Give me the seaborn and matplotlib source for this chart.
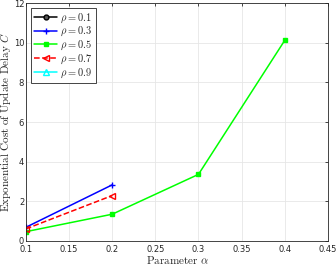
import numpy as np
import pandas as pd
import matplotlib
matplotlib.use("Agg")
import matplotlib.pyplot as plt
import seaborn as sns

# values
alpha_01 = []
cost_01 = []
alpha_03 = [0.1, 0.2]
cost_03 = [0.69, 2.83]
alpha_05 = [0.1, 0.2, 0.3, 0.4]
cost_05 = [0.47, 1.35, 3.36, 10.12]
alpha_07 = [0.1, 0.2]
cost_07 = [0.61, 2.29]
alpha_09 = []
cost_09 = []

rho_labels = ["0.1", "0.3", "0.5", "0.7", "0.9"]
series_x = [alpha_01, alpha_03, alpha_05, alpha_07, alpha_09]
series_y = [cost_01, cost_03, cost_05, cost_07, cost_09]

colors = ["black", "blue", "#00ff00", "red", "cyan"]
markers = ["o", "+", "s", "<", "^"]
msizes = [3.5, 4.5, 3, 4, 4]
lstyles = ["-", "-", "-", "--", "-"]
mfaces = ["#555555", "blue", "#00ff00", "none", "none"]

sns.set_style("whitegrid")
plt.rcParams["font.family"] = ["DejaVu Sans"]
plt.rcParams["mathtext.fontset"] = "cm"

fig = plt.figure(figsize=(3.36, 2.65), dpi=100)
ax = fig.add_axes([0.077, 0.0906, 0.899, 0.898])

for xs, ys, lab, c, m, ms, ls, mf in zip(series_x, series_y, rho_labels, colors, markers, msizes, lstyles, mfaces):
    if len(xs) > 0:
        df = pd.DataFrame({"alpha": xs, "cost": ys})
        sns.lineplot(data=df, x="alpha", y="cost", ax=ax, color=c, marker=m,
                     linestyle=ls, markersize=ms, markerfacecolor=mf,
                     markeredgecolor=c, markeredgewidth=1.0, linewidth=1.1,
                     label=r"$\rho = %s$" % lab)
    else:
        ax.plot([], [], color=c, marker=m, linestyle=ls, markersize=ms,
                markerfacecolor=mf, markeredgecolor=c, markeredgewidth=1.0,
                linewidth=1.1, label=r"$\rho = %s$" % lab)

ax.set_xlim(0.1, 0.45)
ax.set_ylim(0, 12)
ax.set_xticks([0.1, 0.15, 0.2, 0.25, 0.3, 0.35, 0.4, 0.45])
ax.set_xticklabels(["0.1", "0.15", "0.2", "0.25", "0.3", "0.35", "0.4", "0.45"])
ax.set_yticks([0, 2, 4, 6, 8, 10, 12])
ax.tick_params(axis="both", labelsize=6, colors="#262626", direction="in",
               length=2.5, width=0.6, top=True, right=True)
ax.tick_params(axis="x", pad=3)
ax.tick_params(axis="y", pad=1.2)
ax.grid(True, color="#e6e6e6", linewidth=0.6)
for s in ax.spines.values():
    s.set_color("#262626")
    s.set_linewidth(0.6)

ax.set_xlabel(r"$\mathrm{Parameter}\ \alpha$", fontsize=8)
ax.set_ylabel(r"$\mathrm{Exponential\ Cost\ of\ Update\ Delay}\ C$", fontsize=8)
ax.xaxis.set_label_coords(0.5, -0.055)
ax.yaxis.set_label_coords(-0.041, 0.5)

leg = ax.legend(loc="upper left", fontsize=7.5, frameon=True, fancybox=False,
                edgecolor="#262626", framealpha=1, borderpad=0.3,
                handlelength=2.2, handletextpad=0.3, labelspacing=0.05,
                borderaxespad=0.5)
leg.get_frame().set_linewidth(0.6)

fig.savefig("out.png", dpi=100)
